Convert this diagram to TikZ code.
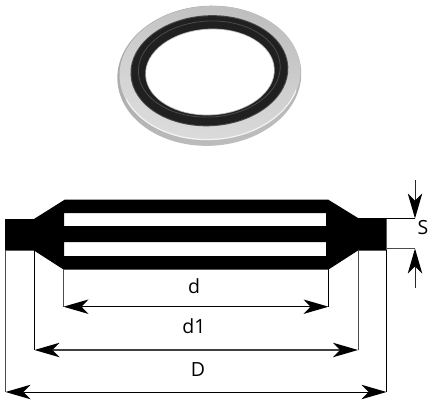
\documentclass[tikz,border=0pt]{standalone}
\usepackage{fontspec}
\setmainfont{Open Sans}
\usetikzlibrary{arrows.meta}
\definecolor{ringface}{HTML}{D0D0D0}
\definecolor{ringfacedk}{HTML}{BEBEBE}
\definecolor{ringfacelt}{HTML}{DCDCDC}
\definecolor{ringrim}{HTML}{A2A2A2}
\definecolor{ringseal}{HTML}{202020}
\definecolor{ringsealhi}{HTML}{4A4A4A}
\tikzset{
  tipdim/.tip={Stealth[length=25pt,width=14.5pt,inset=7pt,fill=black,color=black,line width=0pt]},
  ext/.style={line width=0.9pt,black},
  extg/.style={line width=0.9pt,black!70},
  dim/.style={line width=0.9pt,black,tipdim-tipdim},
  dimg/.style={dim,line width=1.1pt,black!75},
  sarrow/.style={line width=0.9pt,black!85,-tipdim},
  lbl/.style={font=\fontsize{19.5}{22}\selectfont,inner sep=0pt,text=black},
}
\begin{document}
\begin{tikzpicture}[x=1pt,y=-1pt]
\useasboundingbox (0,0) rectangle (428,399);
% ---- photographed ring ----
\begin{scope}[shift={(209.3,75.8)},rotate=3]
  \shade[left color=ringrim,right color=ringfacedk,shading angle=15] (0,0) ellipse [x radius=92,y radius=70];
\end{scope}
\begin{scope}[shift={(210,73)},rotate=3]
  \shade[left color=ringfacedk,right color=ringfacelt,middle color=ringface,shading angle=-15] (0,0) ellipse [x radius=90.5,y radius=67];
  \begin{scope}
    \clip (-85,15) rectangle (85,70);
    \draw[white,opacity=0.7,line width=1.2pt] (0,0) ellipse [x radius=90,y radius=66.5];
  \end{scope}
  \fill[ringsealhi] (-0.5,-2.3) ellipse [x radius=79,y radius=55.5];
  \fill[ringseal] (-0.5,-2.3) ellipse [x radius=78,y radius=54.5];
  \draw[ringsealhi,line width=0.8pt] (-0.5,-4) ellipse [x radius=71,y radius=48];
  \fill[black!30] (0,-1) ellipse [x radius=64.8,y radius=43.3];
  \fill[white] (0,-1) ellipse [x radius=64,y radius=42.5];
\end{scope}
% ---- cross-section ----
\fill[black,even odd rule]
  (5,219) -- (34,219) -- (65,199.5) -- (328,199.5) -- (358,218) -- (386.5,218)
  -- (386.5,250.5) -- (358,250.5) -- (328.5,269.5) -- (63.5,269.5) -- (34,250.5) -- (5,250.5) -- cycle
  (64,213) rectangle (326,226)
  (64,242) rectangle (326,256);
% ---- reference points ----
\coordinate (eD1) at (5.5,250);
\coordinate (ed1) at (34.5,250);
\coordinate (ed) at (63.5,269);
\coordinate (ed') at (328.5,269);
\coordinate (ed1') at (358,250);
\coordinate (eD') at (386.5,250);
\coordinate (dL) at (63.5,306.7);
\coordinate (dR) at (328.5,306.7);
\coordinate (d1L) at (34.5,350);
\coordinate (d1R) at (358,350);
\coordinate (DL) at (5.5,392);
\coordinate (DR) at (386.5,392);
\coordinate (sT) at (386,218.5);
\coordinate (sTe) at (415,218.5);
\coordinate (sB) at (386,248.5);
\coordinate (sBe) at (415,248.5);
\coordinate (aT) at (415,180);
\coordinate (aB) at (415,288);
% ---- extension lines ----
\draw[extg] (eD1) -- (DL);
\draw[ext] (ed1) -- (d1L);
\draw[extg] (ed) -- (dL);
\draw[ext] (ed') -- (dR);
\draw[extg] (ed1') -- (d1R);
\draw[ext] (eD') -- (DR);
\draw[ext] (sT) -- (sTe);
\draw[extg] (sB) -- (sBe);
% ---- dimension lines ----
\draw[dim] (dL) -- (dR);
\draw[dimg] (d1L) -- (d1R);
\draw[dim] (DL) -- (DR);
\draw[sarrow] (aT) -- (sTe);
\draw[sarrow] (aB) -- (sBe);
% ---- labels ----
\node[lbl] (ld) at (194,286) {d};
\node[lbl] (ld1) at (194,326) {d1};
\node[lbl] (lD) at (198,369.5) {D};
\node[lbl] (lS) at (423,228) {S};
\end{tikzpicture}
\end{document}
